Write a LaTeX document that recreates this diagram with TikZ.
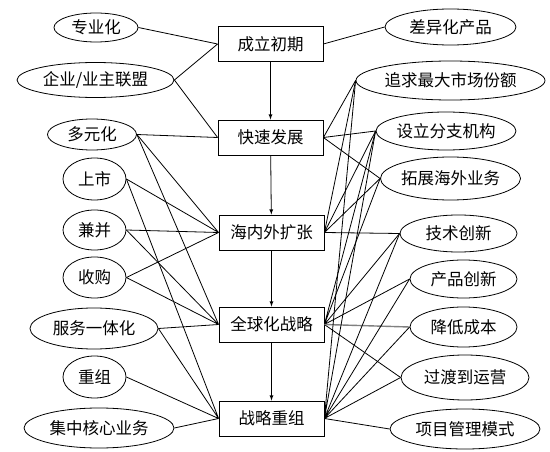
\documentclass[tikz,border=0pt]{standalone}
\usepackage{fontspec}
\newfontfamily\cjk{Noto Sans CJK SC}
\usepackage{tikz}
\usetikzlibrary{shapes.geometric}
\usetikzlibrary{arrows}
\tikzset{
	stage/.style={draw, rectangle, minimum width=105pt, minimum height=35pt, inner sep=0pt, font=\cjk\fontsize{16.5}{18}\selectfont},
	idea/.style n args={2}{draw, ellipse, minimum width=#1pt, minimum height=#2pt, inner sep=0pt, font=\cjk\fontsize{16.5}{18}\selectfont},
	link/.style={line width=0.8pt},
	graylink/.style={line width=1.4pt, gray}
}

\begin{document}
\begin{tikzpicture}[x=1pt, y=-1pt, line width=0.8pt]
		\useasboundingbox (0,0) rectangle (550,452);
		% stages
		\node[stage] (chengli) at (270.5,44) {成立初期};
		\node[stage] (kuaisu) at (270.5,137.5) {快速发展};
		\node[stage] (haineiwai) at (271.5,232.5) {海内外扩张};
		\node[stage] (quanqiu) at (271.5,324.5) {全球化战略};
		\node[stage] (chongzu) at (271.5,418.5) {战略重组};
		\draw[-latex] (chengli) -- (kuaisu);
		\draw[-latex] (kuaisu) -- (haineiwai);
		\draw[-latex] (haineiwai) -- (quanqiu);
		\draw[-latex] (quanqiu) -- (chongzu);
		% left side
		\node[idea={84}{29}] (zhuanye) at (96,27.5) {专业化};
		\node[idea={157}{35}] (lianmeng) at (95.5,80) {企业/业主联盟};
		\node[idea={89}{31}] (duoyuan) at (92,134.5) {多元化};
		\node[idea={63}{42}] (shangshi) at (94.5,179) {上市};
		\node[idea={63}{40}] (jianbing) at (94.5,230) {兼并};
		\node[idea={63}{41}] (shougou) at (94.5,277.5) {收购};
		\node[idea={128}{41}] (fuwu) at (94,328.5) {服务一体化};
		\node[idea={63}{42}] (zuzhi) at (94.5,377) {重组};
		\node[idea={150}{40}] (jizhong) at (99,428) {集中核心业务};
		% right side
		\node[idea={131}{36}] (chayi) at (450.5,27) {差异化产品};
		\node[idea={189}{39}] (zhuiqiu) at (450.5,80.5) {追求最大市场份额};
		\node[idea={124}{38}] (sheli) at (446,131) {设立分支机构};
		\node[idea={133}{43}] (tuozhan) at (450.5,178.5) {拓展海外业务};
		\node[idea={117}{37}] (jishu) at (458.5,233.5) {技术创新};
		\node[idea={107}{38}] (chanpin) at (463.5,279) {产品创新};
		\node[idea={107}{40}] (jiangdi) at (463.5,327) {降低成本};
		\node[idea={128}{45}] (guodu) at (465,377.5) {过渡到运营};
		\node[idea={150}{40}] (xiangmu) at (465,429) {项目管理模式};
		% left links
		\draw[link] (zhuanye.east) -- (chengli.west) (lianmeng.east) -- (chengli.west);
		\draw[link] (lianmeng.east) -- (kuaisu.west) (duoyuan.east) -- (kuaisu.west);
		\draw[link] (duoyuan.east) -- (haineiwai.west) (shangshi.east) -- (haineiwai.west)
			(jianbing.east) -- (haineiwai.west) (shougou.east) -- (haineiwai.west);
		\draw[link] (duoyuan.east) -- (quanqiu.west) (jianbing.east) -- (quanqiu.west)
			(shougou.east) -- (quanqiu.west) (fuwu.east) -- (quanqiu.west);
		\draw[link] (shangshi.east) -- (chongzu.west) (fuwu.east) -- (chongzu.west)
			(zuzhi.east) -- (chongzu.west) (jizhong.east) -- (chongzu.west);
		% right links
		\draw[link] (chengli.east) -- (chayi.west);
		\draw[link] (kuaisu.east) -- (zhuiqiu.west) (kuaisu.east) -- (sheli.west)
			(kuaisu.east) -- (tuozhan.west);
		\draw[link] (haineiwai.east) -- (zhuiqiu.west) (haineiwai.east) -- (sheli.west)
			(haineiwai.east) -- (tuozhan.west) (haineiwai.east) -- (jishu.west);
		\draw[link] (quanqiu.east) -- (sheli.west) (quanqiu.east) -- (tuozhan.west)
			(quanqiu.east) -- (jishu.west) (quanqiu.east) -- (chanpin.west)
			(quanqiu.east) -- (guodu.west);
		\draw[graylink] (quanqiu.east) -- (jiangdi.west);
		\draw[link] (chongzu.east) -- (zhuiqiu.west) (chongzu.east) -- (sheli.west)
			(chongzu.east) -- (jishu.west) (chongzu.east) -- (chanpin.west)
			(chongzu.east) -- (jiangdi.west) (chongzu.east) -- (guodu.west)
			(chongzu.east) -- (xiangmu.west);
	\end{tikzpicture}
\end{document}
